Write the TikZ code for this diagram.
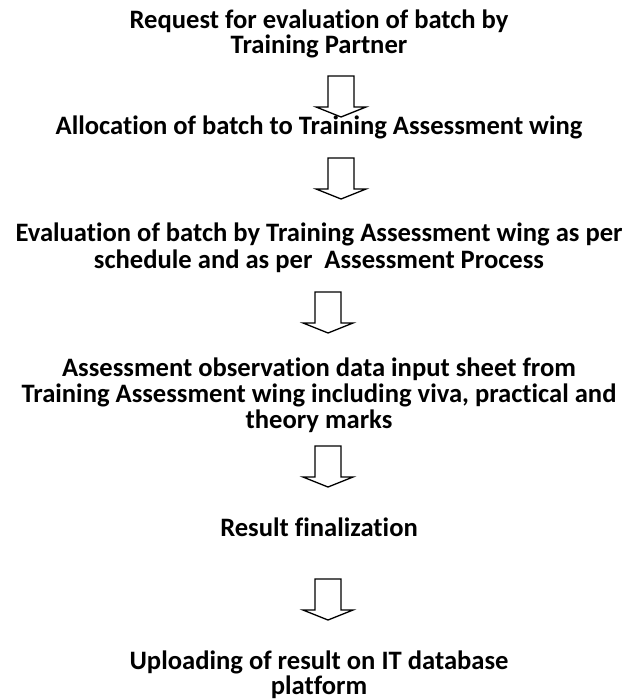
\documentclass[tikz,border=0pt]{standalone}
\usepackage{fontspec}
\setmainfont{Carlito}[Ligatures=NoCommon]
\begin{document}
\begin{tikzpicture}[x=1pt,y=-1pt,
  txt/.style={anchor=base,inner sep=0pt,font=\fontsize{26.6}{26}\selectfont\bfseries},
  blockarrow/.style={draw=black,line width=1.3pt,line join=miter},
  downarrow/.pic={\draw[blockarrow] (-13,0) -- (13,0) -- (13,31) -- (25,31) -- (0,41) -- (-25,31) -- (-13,31) -- cycle;}]
\useasboundingbox (0,0) rectangle (626,700);
% block arrows
\pic (a1) at (341,76) {downarrow};
\pic (a2) at (341,158) {downarrow};
\pic (a3) at (328,292) {downarrow};
\pic (a4) at (328,446) {downarrow};
\pic (a5) at (328,579) {downarrow};
% texts
\node[txt] (r1) at (319,29) {Request for evaluation of batch by};
\node[txt] (r2) at (319,54) {Training Partner};
\node[txt] (al) at (319,135) {Allocation of batch to Training Assessment wing};
\node[txt] (e1) at (319,242) {Evaluation of batch by Training Assessment wing as per};
\node[txt] (e2) at (319,269) {schedule and as per\ \ Assessment Process};
\node[txt] (o1) at (319,376) {Assessment observation data input sheet from};
\node[txt] (o2) at (319,402) {Training Assessment wing including viva, practical and};
\node[txt] (o3) at (319,428) {theory marks};
\node[txt] (rf) at (319,536) {Result finalization};
\node[txt] (u1) at (319,669) {Uploading of result on IT database};
\node[txt] (u2) at (319,694) {platform};
\end{tikzpicture}
\end{document}
